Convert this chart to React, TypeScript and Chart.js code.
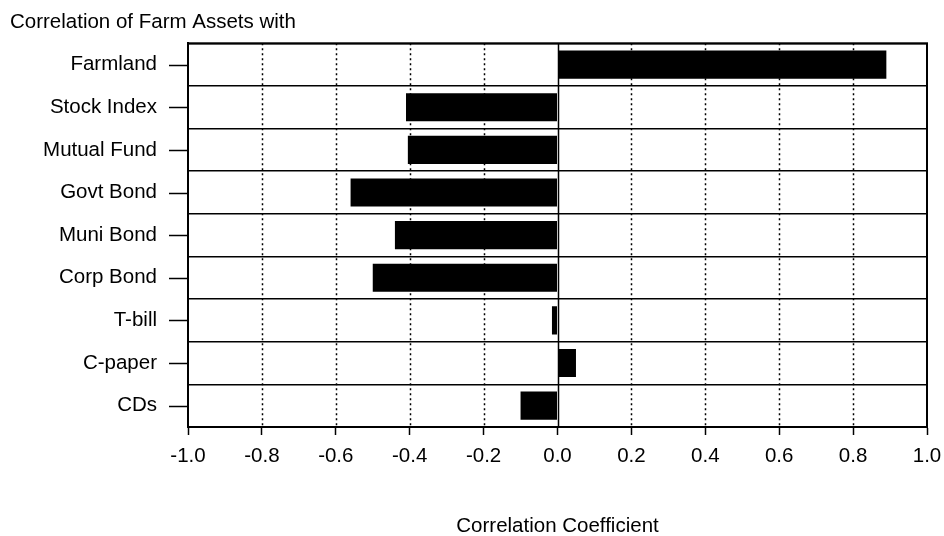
import React, { useEffect, useRef } from 'react';
import { Chart, registerables } from 'chart.js';

Chart.register(...registerables);

const chartTitle = 'Correlation of Farm Assets with';
const axisTitle = 'Correlation Coefficient';
const categories = ['Farmland', 'Stock Index', 'Mutual Fund', 'Govt Bond', 'Muni Bond', 'Corp Bond', 'T-bill', 'C-paper', 'CDs'];
const correlations = [0.89, -0.41, -0.405, -0.56, -0.44, -0.5, -0.015, 0.05, -0.1];
const xMin = -1.0;
const xMax = 1.0;
const xStep = 0.2;

const FONT = '"Liberation Sans", Arial, Helvetica, sans-serif';
const FS = 20.5;

const framePlugin = {
  id: 'framePlugin',
  beforeDatasetsDraw(chart: any) {
    const { ctx, chartArea, scales } = chart;
    const xs = scales.x;
    ctx.save();
    ctx.strokeStyle = '#000';
    xs.ticks.forEach((t: any) => {
      const v = t.value;
      if (Math.abs(v - xMin) < 1e-9 || Math.abs(v - xMax) < 1e-9) return;
      const px = Math.round(xs.getPixelForValue(v)) + 0.5;
      ctx.beginPath();
      if (Math.abs(v) < 1e-9) {
        ctx.setLineDash([]);
        ctx.lineWidth = 1.5;
      } else {
        ctx.setLineDash([2, 3]);
        ctx.lineWidth = 1.5;
      }
      ctx.moveTo(px, chartArea.top);
      ctx.lineTo(px, chartArea.bottom);
      ctx.stroke();
    });
    ctx.restore();
  },
  afterDraw(chart: any) {
    const { ctx, chartArea, scales } = chart;
    const ys = scales.y;
    ctx.save();
    ctx.strokeStyle = '#000';
    ctx.setLineDash([]);
    ctx.lineWidth = 2;
    ctx.strokeRect(chartArea.left, chartArea.top, chartArea.right - chartArea.left, chartArea.bottom - chartArea.top);
    ctx.lineWidth = 1.5;
    for (let i = 0; i < categories.length; i++) {
      const py = Math.round(ys.getPixelForTick(i)) + 0.5;
      ctx.beginPath();
      ctx.moveTo(chartArea.left - 19, py);
      ctx.lineTo(chartArea.left, py);
      ctx.stroke();
    }
    ctx.restore();
  },
};

export default function App() {
  const ref = useRef<HTMLCanvasElement | null>(null);

  useEffect(() => {
    if (!ref.current) return;
    const chart = new Chart(ref.current, {
      type: 'bar',
      data: {
        labels: categories,
        datasets: [
          {
            data: correlations,
            backgroundColor: '#000',
            borderWidth: 0,
            barPercentage: 0.66,
            categoryPercentage: 1,
          },
        ],
      },
      options: {
        indexAxis: 'y',
        responsive: false,
        animation: false,
        layout: { padding: { left: 10, right: 17, top: 0, bottom: 0 } },
        plugins: {
          legend: { display: false },
          tooltip: { enabled: false },
          title: {
            display: true,
            text: chartTitle,
            align: 'start',
            color: '#000',
            font: { family: FONT, size: FS, weight: 'normal' },
            padding: { top: 9, bottom: 9 },
          },
        },
        scales: {
          x: {
            type: 'linear',
            min: xMin,
            max: xMax,
            afterFit(scale: any) {
              scale.height = 109;
              scale.paddingRight = 0;
              scale.paddingLeft = 0;
            },
            ticks: {
              stepSize: xStep,
              color: '#000',
              padding: 9,
              font: { family: FONT, size: FS },
              callback: (v: any) => (Math.abs(Number(v)) < 1e-9 ? '0.0' : Number(v).toFixed(1)),
            },
            grid: {
              drawOnChartArea: false,
              drawTicks: true,
              tickLength: 8,
              tickColor: '#000',
              tickWidth: 1.5,
              color: '#000',
            },
            border: { display: true, color: '#000', width: 2 },
            title: {
              display: true,
              text: axisTitle,
              color: '#000',
              font: { family: FONT, size: FS, weight: 'normal' },
              padding: { top: 0, bottom: -3 },
            },
          },
          y: {
            type: 'category',
            afterFit(scale: any) {
              scale.width = 178;
            },
            ticks: {
              color: '#000',
              padding: 31,
              font: { family: FONT, size: FS },
            },
            grid: {
              offset: true,
              drawTicks: false,
              color: '#000',
              lineWidth: 1.5,
            },
            border: { display: true, color: '#000', width: 2 },
          },
        },
      },
      plugins: [framePlugin],
    });
    return () => chart.destroy();
  }, []);

  return (
    <div style={{ position: 'fixed', left: 0, top: 0, width: 944, height: 536, background: '#fff' }}>
      <canvas ref={ref} width={944} height={536} />
    </div>
  );
}
